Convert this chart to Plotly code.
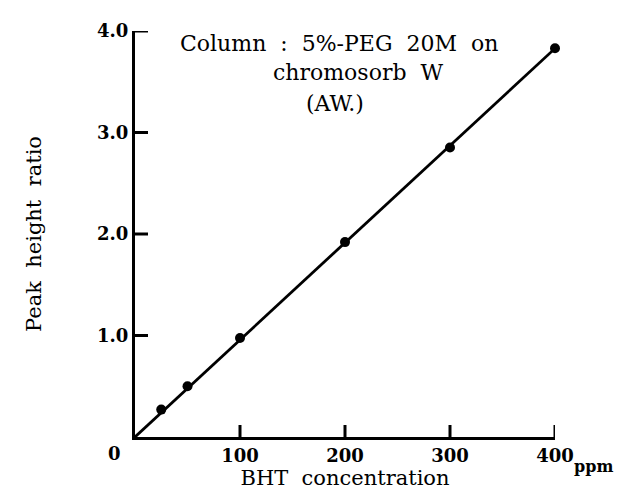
import numpy as np
import plotly.graph_objects as go

# Data
bht_ppm = [25, 50, 100, 200, 300, 400]
peak_ratio = [0.27, 0.50, 0.976, 1.92, 2.853, 3.83]

x_ticks = [100, 200, 300, 400]
x_tick_labels = ["100", "200", "300", "400"]
y_ticks = [1, 2, 3, 4]
y_tick_labels = ["1.0", "2.0", "3.0", "4.0"]

# calibration line through origin (least squares fit of the points)
xa = np.array(bht_ppm, dtype=float)
ya = np.array(peak_ratio, dtype=float)
slope = float((xa * ya).sum() / (xa * xa).sum())
line_x = [0, max(bht_ppm)]
line_y = [0, slope * max(bht_ppm)]

serif = "DejaVu Serif"

fig = go.Figure()
fig.add_trace(go.Scatter(x=line_x, y=line_y, mode="lines",
                         line=dict(color="black", width=2.8),
                         showlegend=False, hoverinfo="skip", cliponaxis=False))
fig.add_trace(go.Scatter(x=bht_ppm, y=peak_ratio, mode="markers",
                         marker=dict(color="black", size=10),
                         showlegend=False, cliponaxis=False))

# page body adds an 8px margin, so the figure is 8px smaller on each side
fig.update_layout(
    width=616, height=493,
    margin=dict(l=127, r=69, t=15, b=64),
    paper_bgcolor="white", plot_bgcolor="white",
    font=dict(family=serif, color="black", size=19),
    xaxis=dict(range=[0, 400], showgrid=False, zeroline=False,
               showline=True, linecolor="black", linewidth=3,
               ticks="",
               tickmode="array", tickvals=x_ticks, ticktext=x_tick_labels,
               tickfont=dict(family=serif, size=18, weight="bold"),
               title=dict(text="BHT  concentration", font=dict(family=serif, size=21), standoff=4)),
    yaxis=dict(range=[0, 4], showgrid=False, zeroline=False,
               showline=True, linecolor="black", linewidth=3,
               ticks="",
               tickmode="array", tickvals=y_ticks, ticktext=y_tick_labels,
               tickfont=dict(family=serif, size=18, weight="bold"),
               title=dict(text="Peak  height  ratio", font=dict(family=serif, size=21), standoff=50)),
)

# inward tick marks at the tick values
for t in x_ticks:
    fig.add_shape(type="line", xref="x", yref="y", x0=t, x1=t,
                  ysizemode="pixel", yanchor=0, y0=0, y1=12,
                  line=dict(color="black", width=3))
for t in y_ticks:
    fig.add_shape(type="line", xref="x", yref="y", y0=t, y1=t,
                  xsizemode="pixel", xanchor=0, x0=0, x1=13,
                  line=dict(color="black", width=3))

fig.add_annotation(text="0", xref="x", yref="y", x=0, y=0, showarrow=False,
                   xanchor="right", yanchor="top", xshift=-12, yshift=-4,
                   font=dict(family=serif, size=18, weight="bold"))
fig.add_annotation(text="ppm", xref="x", yref="y", x=400, y=0, showarrow=False,
                   xanchor="left", yanchor="top", xshift=17, yshift=-18,
                   font=dict(family=serif, size=16, weight="bold"))
fig.add_annotation(text="Column  :  5%-PEG  20M  on", xref="paper", yref="paper",
                   x=(178 - 135) / 420, y=1, showarrow=False,
                   xanchor="left", yanchor="middle", yshift=-12,
                   font=dict(family=serif, size=22))
fig.add_annotation(text="chromosorb  W", xref="paper", yref="paper",
                   x=(358 - 135) / 420, y=1, showarrow=False,
                   xanchor="center", yanchor="middle", yshift=-41,
                   font=dict(family=serif, size=22))
fig.add_annotation(text="(AW.)", xref="paper", yref="paper",
                   x=(335 - 135) / 420, y=1, showarrow=False,
                   xanchor="center", yanchor="middle", yshift=-72,
                   font=dict(family=serif, size=22))

fig.write_html("out.html")
